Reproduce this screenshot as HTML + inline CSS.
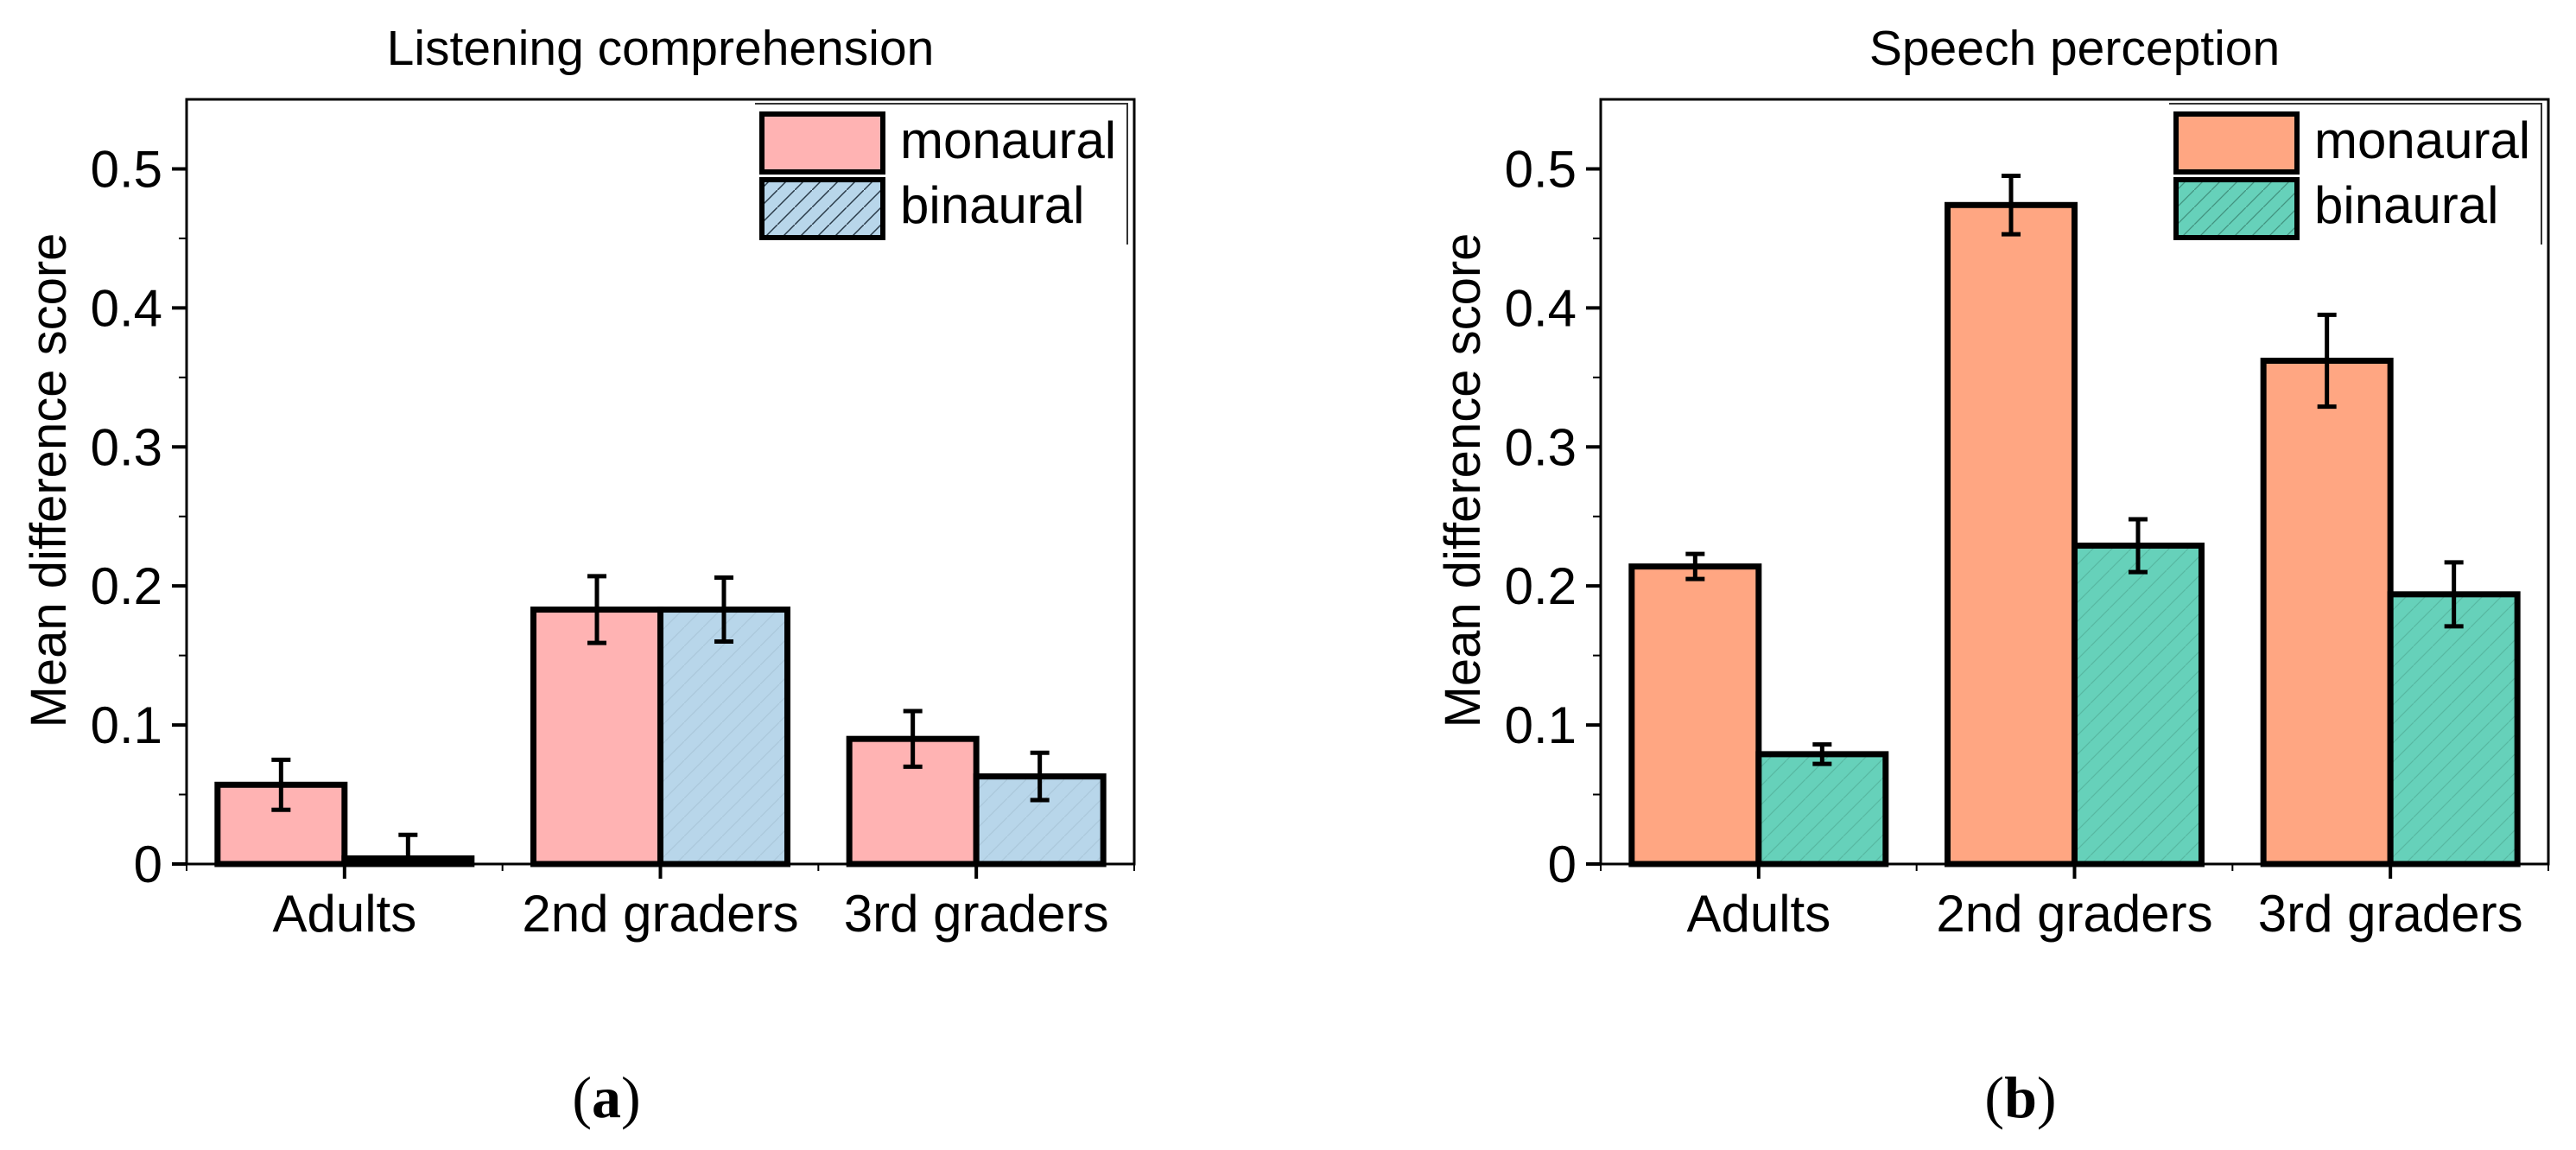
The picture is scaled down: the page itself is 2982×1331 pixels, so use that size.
<!DOCTYPE html>
<html><head><meta charset="utf-8"><style>
html,body{margin:0;padding:0;background:#fff;}
svg{display:block;}
text{font-family:"Liberation Sans",Arial,sans-serif;fill:#000;}
</style></head><body>
<svg id="fig" width="2982" height="1331" viewBox="0 0 2982 1331" xmlns="http://www.w3.org/2000/svg">
<defs>
<pattern id="hatchL" patternUnits="userSpaceOnUse" width="22" height="22">
<rect width="22" height="22" fill="#B8D6EA"/><path d="M-2,24 L24,-2" stroke="#4a6070" stroke-width="1.2" stroke-opacity="0.12"/>
</pattern>
<pattern id="hatchR" patternUnits="userSpaceOnUse" width="22" height="22">
<rect width="22" height="22" fill="#66D1BA"/><path d="M-2,24 L24,-2" stroke="#2a6a58" stroke-width="1.2" stroke-opacity="0.25"/>
</pattern>
<pattern id="hatchLleg" patternUnits="userSpaceOnUse" width="20" height="20">
<rect width="20" height="20" fill="#B8D6EA"/><path d="M-2,22 L22,-2" stroke="#2a3a48" stroke-width="1.5"/>
</pattern>
<pattern id="hatchRleg" patternUnits="userSpaceOnUse" width="20" height="20">
<rect width="20" height="20" fill="#66D1BA"/><path d="M-2,22 L22,-2" stroke="#2a6a58" stroke-width="1.3" stroke-opacity="0.6"/>
</pattern>
</defs>
</svg>
<script>
const categories = ["Adults", "2nd graders", "3rd graders"];
const leftMonaural = [0.057, 0.183, 0.090];
const leftBinaural = [0.004, 0.183, 0.063];
const leftMonErr = [0.018, 0.024, 0.020];
const leftBinErr = [0.017, 0.023, 0.017];
const rightMonaural = [0.214, 0.474, 0.362];
const rightBinaural = [0.079, 0.229, 0.194];
const rightMonErr = [0.009, 0.021, 0.033];
const rightBinErr = [0.007, 0.019, 0.023];
const yTicks = ["0", "0.1", "0.2", "0.3", "0.4", "0.5"];

const svg = document.getElementById('fig');
const NS = "http://www.w3.org/2000/svg";
function mk(tag, attrs, parent){const e=document.createElementNS(NS,tag);for(const k in attrs)e.setAttribute(k,attrs[k]);(parent||svg).appendChild(e);return e;}

function panel(id, x0, title, label, mon, bin, monErr, binErr, monColor, binFill, legFill){
  const g = mk('g',{});
  
  
  const x1 = x0 + 1097, yTop = 115, y0 = 1000, yMax = 0.55;
  const y = v => y0 - v/yMax*(y0-yTop);
  const band = (x1-x0)/categories.length;
  const cx = i => x0 + band*(i+0.5);
  const bw = 147;
  const t = mk('text',{x:(x0+x1)/2,y:75,'font-size':57,'text-anchor':'middle'},g); t.textContent=title;
  
  
  const fr = mk('path',{d:`M${x0},${y0} L${x0},${yTop} L${x1},${yTop} L${x1},${y0} Z`,fill:'none',stroke:'#000','stroke-width':3},g);
  
  
  for(let k=0;k<=10;k++){
    const v=k*0.05, yy=y(v), major=k%2===0;
    mk('line',{x1:x0-(major?17:9),x2:x0,y1:yy,y2:yy,stroke:'#000','stroke-width':major?4:2},g);
  }
  yTicks.forEach((s,i)=>{
    const tl = mk('text',{x:x0-28,y:y(i*0.1)+21,'font-size':60,'text-anchor':'end'},g); tl.textContent=s;
    
    
  });
  const yt = mk('text',{x:0,y:0,'font-size':58,'text-anchor':'middle',transform:`translate(${x0-140},556) rotate(-90)`},g);
  yt.textContent='Mean difference score';
  
  
  for(let i=0;i<=categories.length;i++){
    mk('line',{x1:x0+band*i,x2:x0+band*i,y1:y0,y2:y0+8,stroke:'#000','stroke-width':2},g);
  }
  categories.forEach((c,i)=>{
    mk('line',{x1:cx(i),x2:cx(i),y1:y0,y2:y0+17,stroke:'#000','stroke-width':4},g);
    const cl = mk('text',{x:cx(i),y:1078,'font-size':60,'text-anchor':'middle'},g); cl.textContent=c;
    
    
  });
  categories.forEach((c,i)=>{
    const bm = mk('rect',{x:cx(i)-bw,y:y(mon[i]),width:bw,height:y0-y(mon[i]),fill:monColor,stroke:'#000','stroke-width':7},g);
    
    
    const bb = mk('rect',{x:cx(i),y:y(bin[i]),width:bw,height:y0-y(bin[i]),fill:binFill,stroke:'#000','stroke-width':7},g);
    
    
    [[cx(i)-bw/2,mon[i],monErr[i]],[cx(i)+bw/2,bin[i],binErr[i]]].forEach(([ex,v,e])=>{
      const eb = mk('path',{d:`M${ex},${y(v+e)} L${ex},${y(Math.max(0,v-e))} M${ex-11},${y(v+e)} L${ex+11},${y(v+e)} M${ex-11},${y(Math.max(0,v-e))} L${ex+11},${y(Math.max(0,v-e))}`,stroke:'#000','stroke-width':5,fill:'none'},g);
      
      
    });
  });
  mk('line',{x1:x0-17,x2:x1,y1:y0,y2:y0,stroke:'#000','stroke-width':3},g);
  const lg = mk('g',{},g);
  
  
  const lx = x0 + 666;
  mk('path',{d:`M${lx-8},${yTop+5} L${x1-8},${yTop+5} L${x1-8},283`,fill:'none',stroke:'#333','stroke-width':2},lg);
  mk('rect',{x:lx,y:132,width:140,height:67,fill:monColor,stroke:'#000','stroke-width':6},lg);
  mk('rect',{x:lx,y:208,width:140,height:67,fill:legFill,stroke:'#000','stroke-width':6},lg);
  const l1 = mk('text',{x:lx+160,y:183,'font-size':60},lg); l1.textContent='monaural';
  
  
  const l2 = mk('text',{x:lx+160,y:258,'font-size':60},lg); l2.textContent='binaural';
  
  
  const pl = mk('text',{x:label.x,y:1293,'font-size':68,'text-anchor':'middle',style:'font-family:"Liberation Serif",serif'},g);
  pl.innerHTML = '(<tspan font-weight="bold">'+label.t+'</tspan>)';
  
  
}
panel('listening', 216, 'Listening comprehension', {x:702,t:'a'}, leftMonaural, leftBinaural, leftMonErr, leftBinErr, '#FFB3B3', 'url(#hatchL)', 'url(#hatchLleg)');
panel('speech', 1853, 'Speech perception', {x:2339,t:'b'}, rightMonaural, rightBinaural, rightMonErr, rightBinErr, '#FFA682', 'url(#hatchR)', 'url(#hatchRleg)');
</script>
</body></html>
